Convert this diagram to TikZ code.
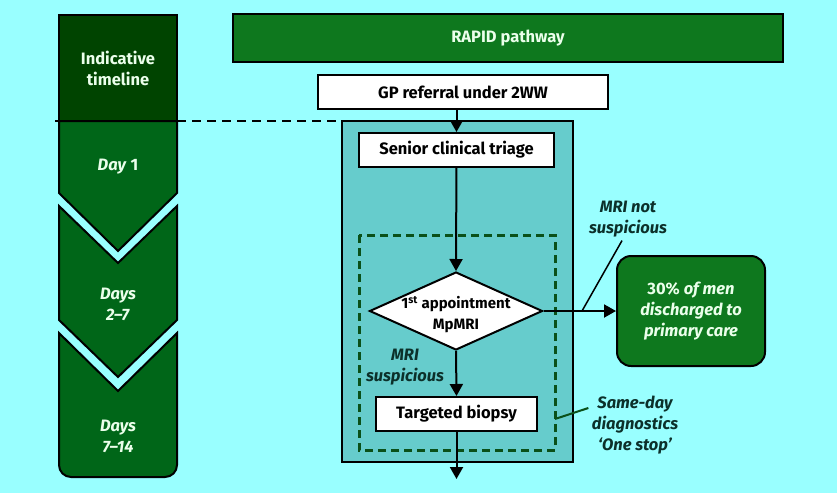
\documentclass[tikz,border=0pt]{standalone}
\usepackage{fontspec}
\setmainfont{Fira Sans}
\usepackage{xcolor}
\definecolor{bgcyan}{RGB}{153,255,255}
\definecolor{panelteal}{RGB}{102,204,204}
\definecolor{timegreen}{RGB}{0,68,0}
\definecolor{daygreen}{RGB}{0,102,24}
\definecolor{boxgreen}{RGB}{14,120,30}
\definecolor{dashgreen}{RGB}{10,80,25}
\definecolor{labeldark}{RGB}{12,48,42}
\definecolor{paletext}{RGB}{235,255,235}
\usepackage{tikz}
\usetikzlibrary{shapes.geometric}
\usetikzlibrary{positioning}
\usetikzlibrary{arrows.meta}

\newcommand\boxfont{\fontsize{16.5}{21}\selectfont\bfseries}
\tikzset{
  stepbox/.style={draw=black, line width=2pt, fill=white, inner sep=0pt, font=\boxfont},
  greenbox/.style={draw=black, line width=2pt, fill=boxgreen, text=paletext, align=center, font=\boxfont},
  flow/.style={line width=2pt, -{Triangle[length=12pt,width=13pt]}},
  daytext/.style={text=paletext, align=center, font=\boxfont},
  remark/.style={text=labeldark, align=center, font=\boxfont\itshape},
  timeline/.style={line width=2pt, draw=black},
}

\begin{document}
\begin{tikzpicture}[x=1pt,y=-1pt]
\fill[bgcyan] (0,0) rectangle (837,493);

% timeline column
\filldraw[timeline, fill=timegreen] (59,15) rectangle (177,121);
\filldraw[timeline, fill=daygreen] (59,121) -- (177,121) -- (177,193) -- (118,251) -- (59,193) -- cycle;
\filldraw[timeline, fill=daygreen] (59,206) -- (118,263) -- (177,206) -- (177,320) -- (118,377) -- (59,320) -- cycle;
\filldraw[timeline, fill=daygreen] (59,333) -- (118,391) -- (177,333) [rounded corners=12pt] -- (177,477) -- (59,477) [sharp corners] -- (59,333) -- cycle;
\draw[line width=2pt] (55,121) -- (177,121);
\draw[line width=2pt, dash pattern=on 9pt off 6pt] (177,121) -- (342,121);

\node[daytext] (indicative) at (118,68) {Indicative\\timeline};
\node[daytext] (day1) at (118,167) {\textit{Day} 1};
\node[daytext] (day2) at (118,304) {\textit{Days}\\\textit{2--7}};
\node[daytext] (day7) at (118,436) {\textit{Days}\\\textit{7--14}};

% pathway
\node[greenbox, minimum width=550pt, minimum height=48pt] (rapid) at (508,38) {RAPID pathway};
\filldraw[line width=2pt, fill=panelteal] (342,121) rectangle (573,462);
\draw[dashgreen, line width=3pt, dash pattern=on 8pt off 5pt] (359,235) rectangle (555,450);

\node[stepbox, minimum width=290pt, minimum height=34pt] (gp) at (463,92) {GP referral under 2WW};
\node[stepbox, minimum width=195pt, minimum height=34pt] (triage) at (456.5,150) {Senior clinical triage};
\node[draw, diamond, fill=white, line width=2pt, inner sep=0pt, minimum width=173pt, minimum height=78pt] (mri) at (456,311) {};
\node[font=\fontsize{15}{21}\selectfont\bfseries, align=center] (mritext) at ([yshift=-4pt]mri.center) {1\textsuperscript{st} appointment\\MpMRI};
\node[stepbox, minimum width=161pt, minimum height=34pt] (biopsy) at (456.5,414) {Targeted biopsy};
\node[greenbox, rounded corners=14pt, minimum width=148pt, minimum height=110pt] (discharge) at (691,311) {30\% \textit{of men}\\\textit{discharged to}\\\textit{primary care}};
\coordinate (exit) at (456.5,479);

\draw[flow] (triage.north |- gp.south) -- (triage.north);
\draw[flow] (triage) -- (mri.north);
\draw[flow] (mri.south) -- (biopsy.north);
\draw[flow] (biopsy.south) -- (exit);
\draw[flow] (mri.east) -- (discharge.west);

% labels
\node[remark] (notsusp) at (628,219) {MRI not\\suspicious};
\node[remark] (susp) at (405,367) {MRI\\suspicious};
\node[remark] (sameday) at (635,425) {Same-day\\diagnostics\\`One stop'};
\coordinate (nsfoot) at (582,311);
\coordinate (sdfoot) at (555,419);
\draw[line width=1.5pt] ([xshift=-6pt]notsusp.south) -- (nsfoot);
\draw[dashgreen, line width=2pt] (sdfoot) -- ([yshift=17pt]sameday.west);
\end{tikzpicture}
\end{document}
